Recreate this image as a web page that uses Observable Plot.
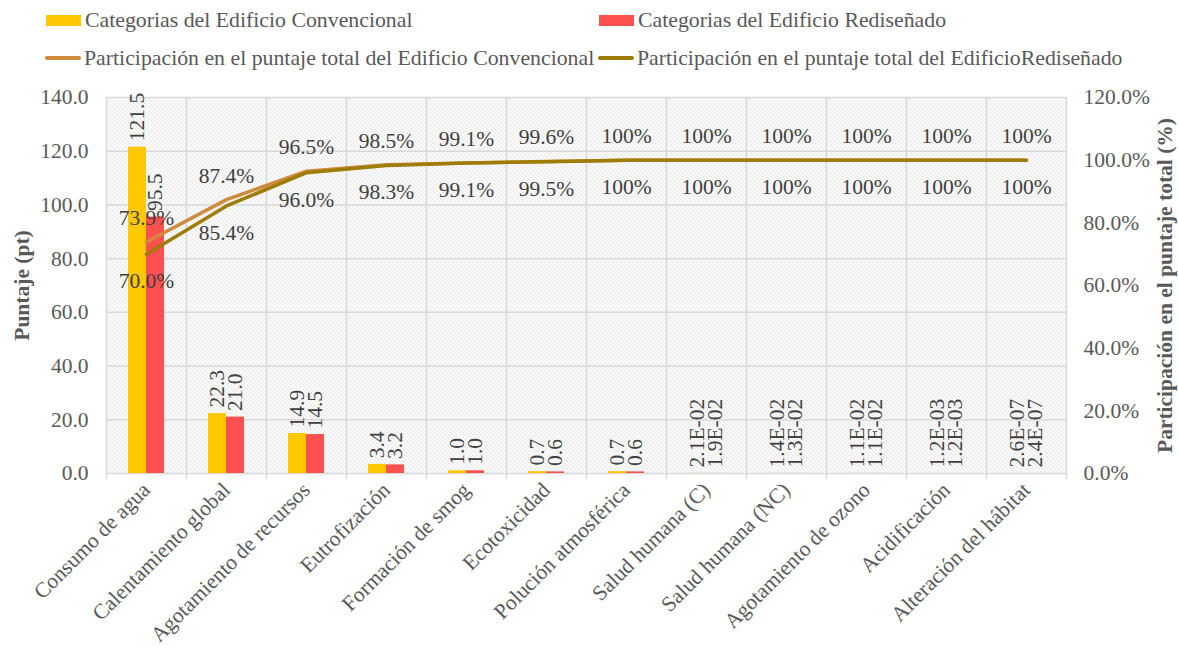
<!DOCTYPE html>
<html>
<head>
<meta charset="utf-8">
<script src="https://cdn.jsdelivr.net/npm/d3@7"></script>
<script src="https://cdn.jsdelivr.net/npm/@observablehq/plot@0.6"></script>
<style>
  body { margin: 0; background: #fff; }
  #wrap { position: relative; width: 1178px; height: 648px; font-family: "Liberation Serif", "Times New Roman", serif; color: #595959; }
  #legend { position: absolute; left: 0; top: 0; width: 1178px; height: 80px; }
  .item { position: absolute; display: flex; align-items: center; font-size: 21.8px; white-space: nowrap; height: 26px; }
  .sw { width: 35px; height: 11px; margin-right: 4px; }
  .ln { width: 36px; height: 3.5px; margin-right: 3px; border-radius: 2px; }
  #chart { position: absolute; left: 0; top: 78px; }
</style>
</head>
<body>
<div id="wrap">
  <div id="legend"></div>
  <div id="chart"></div>
</div>
<script>
// ---- Data ----
const categories = ["Consumo de agua", "Calentamiento global", "Agotamiento de recursos", "Eutrofización",
  "Formación de smog", "Ecotoxicidad", "Polución atmosférica", "Salud humana (C)", "Salud humana (NC)",
  "Agotamiento de ozono", "Acidificación", "Alteración del hábitat"];
const convValues = [121.5, 22.3, 14.9, 3.4, 1.0, 0.7, 0.7, 2.1e-2, 1.4e-2, 1.1e-2, 1.2e-3, 2.6e-7];
const redValues  = [95.5, 21.0, 14.5, 3.2, 1.0, 0.6, 0.6, 1.9e-2, 1.3e-2, 1.1e-2, 1.2e-3, 2.4e-7];
const convLabels = ["121.5", "22.3", "14.9", "3.4", "1.0", "0.7", "0.7", "2.1E-02", "1.4E-02", "1.1E-02", "1.2E-03", "2.6E-07"];
const redLabels  = ["95.5", "21.0", "14.5", "3.2", "1.0", "0.6", "0.6", "1.9E-02", "1.3E-02", "1.1E-02", "1.2E-03", "2.4E-07"];
const convPct = [73.9, 87.4, 96.5, 98.5, 99.1, 99.6, 100, 100, 100, 100, 100, 100];
const redPct  = [70.0, 85.4, 96.0, 98.3, 99.1, 99.5, 100, 100, 100, 100, 100, 100];
const leftTicks  = [0, 20, 40, 60, 80, 100, 120, 140];
const rightTicks = [0, 20, 40, 60, 80, 100, 120];
const seriesNames = ["Categorias del Edificio Convencional", "Categorias del Edificio Rediseñado",
  "Participación en el puntaje total del Edificio Convencional", "Participación en el puntaje total del EdificioRediseñado"];
const leftTitle = "Puntaje (pt)";
const rightTitle = "Participación en el puntaje total (%)";

// ---- Styles ----
const YELLOW = "#FFC800", RED = "#FF5050", ORANGE = "#D08A3C", OLIVE = "#9E7C06";
const GRID = "#d9d9d9", TEXT = "#595959", LABEL = "#404040";

const rows = categories.map((c, i) => ({
  cat: c, conv: convValues[i], red: redValues[i],
  convLabel: convLabels[i], redLabel: redLabels[i],
  convPct: convPct[i], redPct: redPct[i]
}));
const k = leftTicks[leftTicks.length - 1] / rightTicks[rightTicks.length - 1];
const fmtPct = p => (p >= 100 ? "100" : p.toFixed(1)) + "%";

// ---- Legend ----
const legend = document.getElementById("legend");
const items = [
  {name: seriesNames[0], cls: "sw", color: YELLOW, left: 46, top: 7},
  {name: seriesNames[1], cls: "sw", color: RED, left: 599, top: 7},
  {name: seriesNames[2], cls: "ln", color: ORANGE, left: 45, top: 45},
  {name: seriesNames[3], cls: "ln", color: OLIVE, left: 598, top: 45}
];
for (const it of items) {
  const d = document.createElement("div");
  d.className = "item";
  d.style.left = it.left + "px";
  d.style.top = it.top + "px";
  const s = document.createElement("span");
  s.className = it.cls;
  s.style.background = it.color;
  d.appendChild(s);
  d.appendChild(document.createTextNode(it.name));
  legend.appendChild(d);
}

// ---- Chart ----
const bw = 18; // bar width
const svg = Plot.plot({
  width: 1178,
  height: 570,
  marginTop: 19,
  marginBottom: 175,
  marginLeft: 106,
  marginRight: 112,
  style: {fontFamily: "Liberation Serif, Times New Roman, serif", fontSize: "21.5px", color: TEXT, background: "white", overflow: "visible"},
  x: {type: "band", domain: categories, padding: 0, axis: null},
  y: {domain: [0, leftTicks[leftTicks.length - 1]], axis: null},
  marks: [
    Plot.frame({fill: "url(#hatch)", stroke: "none"}),
    Plot.ruleY(leftTicks, {stroke: GRID, strokeWidth: 1.5}),
    Plot.ruleX(categories, {x: d => d, dx: -40, insetBottom: -6, stroke: GRID, strokeWidth: 1.5}),
    Plot.ruleX(categories.slice(-1), {x: d => d, dx: 40, insetBottom: -6, stroke: GRID, strokeWidth: 1.5}),
    Plot.barY(rows, {x: "cat", y: "conv", fill: YELLOW, insetLeft: 31, insetRight: 31, dx: -bw / 2}),
    Plot.barY(rows, {x: "cat", y: "red", fill: RED, insetLeft: 31, insetRight: 31, dx: bw / 2}),
    Plot.lineY(rows, {x: "cat", y: d => d.convPct * k, stroke: ORANGE, strokeWidth: 3.5}),
    Plot.lineY(rows, {x: "cat", y: d => d.redPct * k, stroke: OLIVE, strokeWidth: 3.5}),
    Plot.text(rows, {x: "cat", y: "conv", text: "convLabel", rotate: -90, textAnchor: "start", lineAnchor: "middle", dx: -bw / 2, dy: -6, fill: LABEL}),
    Plot.text(rows, {x: "cat", y: "red", text: "redLabel", rotate: -90, textAnchor: "start", lineAnchor: "middle", dx: bw / 2, dy: -6, fill: LABEL}),
    Plot.text(rows, {x: "cat", y: d => d.convPct * k, text: d => fmtPct(d.convPct), lineAnchor: "middle", dy: -24, fill: LABEL}),
    Plot.text(rows, {x: "cat", y: d => d.redPct * k, text: d => fmtPct(d.redPct), lineAnchor: "middle", dy: 27, fill: LABEL}),
    Plot.axisY(leftTicks, {tickSize: 0, tickPadding: 18, tickFormat: d => d.toFixed(1), label: null, fill: TEXT}),
    Plot.axisY(rightTicks.map(t => t * k), {anchor: "right", tickSize: 0, tickPadding: 17, tickFormat: d => (d / k).toFixed(1) + "%", label: null, fill: TEXT}),
    Plot.axisX({tickRotate: -45, tickSize: 0, tickPadding: 13, label: null, fill: TEXT}),
    Plot.text([leftTitle], {frameAnchor: "left", textAnchor: "middle", rotate: -90, dx: -84, fontWeight: "bold", fill: TEXT}),
    Plot.text([rightTitle], {frameAnchor: "right", textAnchor: "middle", rotate: -90, dx: 99, fontWeight: "bold", fill: TEXT})
  ]
});

const ns = "http://www.w3.org/2000/svg";
const defs = document.createElementNS(ns, "defs");
defs.innerHTML = '<pattern id="hatch" width="4" height="4" patternUnits="userSpaceOnUse">' +
  '<rect width="4" height="4" fill="#ffffff"/>' +
  '<path d="M-1,-1L5,5M-1,3L1,5M3,-1L5,1" stroke="#d2d2d2" stroke-width="0.9"/></pattern>';
svg.insertBefore(defs, svg.firstChild);
document.getElementById("chart").appendChild(svg);
</script>
</body>
</html>
